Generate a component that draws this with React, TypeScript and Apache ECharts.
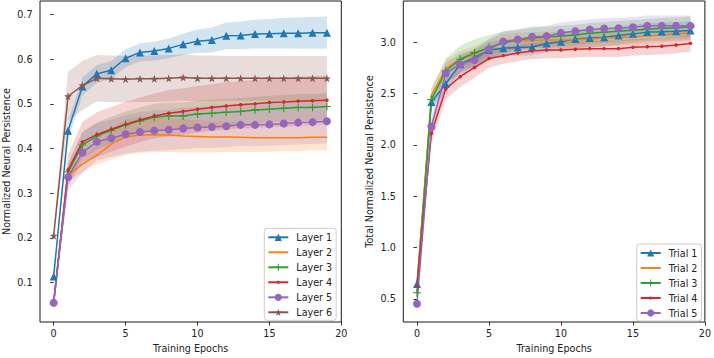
import React, { useEffect, useRef } from "react";
import * as echarts from "echarts";

const epochs = [0, 1, 2, 3, 4, 5, 6, 7, 8, 9, 10, 11, 12, 13, 14, 15, 16, 17, 18, 19];
const xTicks = [0, 5, 10, 15, 20];
const leftYTicks = [0.1, 0.2, 0.3, 0.4, 0.5, 0.6, 0.7];
const rightYTicks = [0.5, 1.0, 1.5, 2.0, 2.5, 3.0];

const layerNames = ["Layer 1", "Layer 2", "Layer 3", "Layer 4", "Layer 5", "Layer 6"];
const layer1 = [0.114, 0.44, 0.539, 0.567, 0.575, 0.602, 0.615, 0.618, 0.624, 0.633, 0.64, 0.643, 0.652, 0.653, 0.656, 0.657, 0.658, 0.658, 0.659, 0.659];
const layer2 = [0.058, 0.34, 0.365, 0.385, 0.41, 0.426, 0.43, 0.431, 0.43, 0.428, 0.427, 0.426, 0.426, 0.425, 0.424, 0.424, 0.424, 0.424, 0.425, 0.425];
const layer3 = [0.055, 0.348, 0.408, 0.428, 0.441, 0.453, 0.462, 0.47, 0.473, 0.473, 0.477, 0.479, 0.481, 0.483, 0.486, 0.488, 0.49, 0.492, 0.492, 0.494];
const layer4 = [0.055, 0.352, 0.415, 0.431, 0.443, 0.454, 0.464, 0.473, 0.479, 0.483, 0.488, 0.492, 0.495, 0.498, 0.5, 0.503, 0.504, 0.506, 0.507, 0.508];
const layer5 = [0.055, 0.336, 0.391, 0.415, 0.423, 0.432, 0.437, 0.44, 0.442, 0.445, 0.447, 0.448, 0.45, 0.453, 0.453, 0.454, 0.456, 0.458, 0.459, 0.461];
const layer6 = [0.205, 0.517, 0.541, 0.557, 0.556, 0.555, 0.556, 0.556, 0.557, 0.559, 0.557, 0.557, 0.557, 0.557, 0.557, 0.557, 0.557, 0.557, 0.557, 0.557];

const layer1Std = [0.008, 0.02, 0.02, 0.02, 0.02, 0.02, 0.02, 0.021, 0.022, 0.024, 0.026, 0.028, 0.03, 0.031, 0.032, 0.033, 0.034, 0.035, 0.036, 0.036];
const layer2Std = [0.005, 0.015, 0.018, 0.02, 0.035, 0.04, 0.04, 0.039, 0.038, 0.037, 0.036, 0.035, 0.034, 0.033, 0.032, 0.031, 0.03, 0.03, 0.029, 0.029];
const layer3Std = [0.005, 0.02, 0.03, 0.03, 0.03, 0.03, 0.03, 0.03, 0.03, 0.03, 0.03, 0.03, 0.03, 0.03, 0.03, 0.03, 0.03, 0.03, 0.03, 0.03];
const layer4Std = [0.01, 0.035, 0.045, 0.05, 0.05, 0.05, 0.05, 0.05, 0.052, 0.052, 0.052, 0.052, 0.053, 0.053, 0.054, 0.054, 0.055, 0.055, 0.055, 0.055];
const layer5Std = [0.005, 0.03, 0.045, 0.042, 0.042, 0.043, 0.044, 0.045, 0.045, 0.046, 0.046, 0.047, 0.047, 0.047, 0.048, 0.048, 0.048, 0.049, 0.049, 0.049];
const layer6Std = [0.01, 0.055, 0.055, 0.052, 0.052, 0.052, 0.052, 0.052, 0.052, 0.052, 0.051, 0.051, 0.05, 0.05, 0.05, 0.05, 0.05, 0.05, 0.05, 0.05];

const trialNames = ["Trial 1", "Trial 2", "Trial 3", "Trial 4", "Trial 5"];
const trial1 = [0.645, 2.416, 2.593, 2.785, 2.85, 2.923, 2.94, 2.948, 2.952, 2.987, 3.003, 3.03, 3.04, 3.048, 3.065, 3.08, 3.097, 3.1, 3.106, 3.113];
const trial2 = [0.62, 2.48, 2.743, 2.833, 2.88, 2.946, 3.0, 3.01, 3.015, 3.02, 3.02, 3.025, 3.03, 3.04, 3.045, 3.05, 3.06, 3.07, 3.08, 3.09];
const trial3 = [0.56, 2.44, 2.72, 2.833, 2.897, 2.946, 2.994, 3.02, 3.04, 3.05, 3.06, 3.07, 3.085, 3.095, 3.105, 3.115, 3.125, 3.135, 3.14, 3.15];
const trial4 = [0.625, 2.11, 2.544, 2.663, 2.753, 2.84, 2.868, 2.893, 2.913, 2.923, 2.923, 2.93, 2.936, 2.936, 2.936, 2.949, 2.955, 2.96, 2.971, 2.987];
const trial5 = [0.452, 2.178, 2.697, 2.785, 2.825, 2.93, 3.005, 3.026, 3.052, 3.058, 3.09, 3.106, 3.122, 3.132, 3.135, 3.145, 3.158, 3.158, 3.158, 3.158];

const trial1Std = [0.03, 0.06, 0.08, 0.08, 0.08, 0.08, 0.08, 0.08, 0.08, 0.085, 0.085, 0.09, 0.09, 0.09, 0.09, 0.09, 0.09, 0.09, 0.09, 0.09];
const trial2Std = [0.03, 0.08, 0.08, 0.08, 0.08, 0.08, 0.08, 0.08, 0.08, 0.08, 0.08, 0.08, 0.08, 0.08, 0.08, 0.08, 0.08, 0.08, 0.08, 0.08];
const trial3Std = [0.03, 0.1, 0.12, 0.13, 0.13, 0.12, 0.11, 0.1, 0.1, 0.1, 0.1, 0.1, 0.1, 0.1, 0.1, 0.1, 0.1, 0.1, 0.1, 0.1];
const trial4Std = [0.03, 0.1, 0.1, 0.1, 0.1, 0.09, 0.08, 0.08, 0.08, 0.08, 0.08, 0.08, 0.08, 0.08, 0.08, 0.08, 0.08, 0.08, 0.08, 0.08];
const trial5Std = [0.03, 0.1, 0.1, 0.1, 0.1, 0.1, 0.1, 0.1, 0.1, 0.1, 0.1, 0.1, 0.1, 0.1, 0.1, 0.1, 0.1, 0.1, 0.1, 0.1];

const colors = ["#1f77b4", "#ff7f0e", "#2ca02c", "#d62728", "#9467bd", "#8c564b"];
const bandFills = [
  "rgba(31,119,180,0.2)",
  "rgba(255,127,14,0.2)",
  "rgba(44,160,44,0.2)",
  "rgba(214,39,40,0.2)",
  "rgba(148,103,189,0.2)",
  "rgba(140,86,75,0.2)",
];

// symbol paths: the invisible M..Z corners fix the bounding box so small markers stay small
const PLUS = "path://M0.43,0H0.57V0.43H1V0.57H0.57V1H0.43V0.57H0V0.43H0.43Z";
const STAR = "path://M0,-1L0.2245,-0.309L0.951,-0.309L0.363,0.118L0.588,0.809L0,0.382L-0.588,0.809L-0.363,0.118L-0.951,-0.309L-0.2245,-0.309Z";
const POINT = "path://M0,0ZM1,1ZM0.42,0.3H0.58L0.7,0.42V0.58L0.58,0.7H0.42L0.3,0.58V0.42Z";
const PIXEL = "path://M0,0ZM1,1ZM0.44,0.44H0.56V0.56H0.44Z";

const layerSymbols: [string, number][] = [
  ["triangle", 8],
  [PIXEL, 8],
  [PLUS, 8],
  [POINT, 8.5],
  ["circle", 8],
  [STAR, 8],
];
const trialSymbols: [string, number][] = [
  ["triangle", 8],
  [PIXEL, 8],
  [PLUS, 8],
  [POINT, 8.5],
  ["circle", 8],
];

const FONT = "DejaVu Sans";
const TEXT = "#222";

function pair(xs: number[], ys: number[]) {
  return xs.map((x, i) => [x, ys[i]]);
}

function bandSeries(idx: number, mean: number[], std: number[], fill: string) {
  return {
    type: "custom",
    xAxisIndex: idx,
    yAxisIndex: idx,
    data: [[0, mean[0]]],
    silent: true,
    clip: true,
    z: 1,
    renderItem: (_params: any, api: any) => {
      const upper = epochs.map((x, i) => api.coord([x, mean[i] + std[i]]));
      const lower = epochs.map((x, i) => api.coord([x, mean[i] - std[i]])).reverse();
      return {
        type: "polygon",
        shape: { points: upper.concat(lower) },
        style: { fill, stroke: "none" },
      };
    },
  };
}

function lineSeries(idx: number, name: string, mean: number[], color: string, sym: [string, number]) {
  return {
    type: "line",
    name,
    xAxisIndex: idx,
    yAxisIndex: idx,
    data: pair(epochs, mean),
    color,
    symbol: sym[0],
    symbolSize: sym[1],
    showAllSymbol: true,
    lineStyle: { width: 1.5, color },
    itemStyle: { color, borderWidth: 0 },
    z: 3,
  };
}

function xAxis(idx: number) {
  return {
    type: "value",
    gridIndex: idx,
    min: -0.95,
    max: 20,
    name: "Training Epochs",
    nameLocation: "middle",
    nameGap: 21,
    nameTextStyle: { fontFamily: FONT, fontSize: 9.6, color: TEXT },
    axisLine: { show: false },
    axisTick: { show: true, length: 3.5, customValues: xTicks, lineStyle: { color: "#000", width: 0.8 } },
    axisLabel: {
      customValues: xTicks,
      margin: 6,
      fontFamily: FONT,
      fontSize: 9.6,
      color: TEXT,
      formatter: (v: number) => String(v),
    },
    splitLine: { show: false },
  };
}

function yAxis(idx: number, min: number, max: number, ticks: number[], name: string) {
  return {
    type: "value",
    gridIndex: idx,
    min,
    max,
    name,
    nameLocation: "middle",
    nameGap: 29,
    nameTextStyle: { fontFamily: FONT, fontSize: 9.6, color: TEXT },
    axisLine: { show: false },
    axisTick: { show: true, length: 3.5, customValues: ticks, lineStyle: { color: "#000", width: 0.8 } },
    axisLabel: {
      customValues: ticks,
      margin: 7.5,
      fontFamily: FONT,
      fontSize: 9.6,
      color: TEXT,
      formatter: (v: number) => v.toFixed(1),
    },
    splitLine: { show: false },
  };
}

function legend(left: number, top: number, names: string[]) {
  return {
    left,
    top,
    orient: "vertical",
    data: names,
    itemWidth: 20,
    itemHeight: 9,
    itemGap: 3,
    padding: [3, 4, 2, 3],
    backgroundColor: "rgba(255,255,255,0.8)",
    borderColor: "#cccccc",
    borderWidth: 1,
    borderRadius: 3,
    textStyle: { fontFamily: FONT, fontSize: 9.6, color: TEXT, lineHeight: 12, padding: [0, 0, 0, 3] },
  };
}

export default function App() {
  const ref = useRef<HTMLDivElement>(null);
  useEffect(() => {
    if (!ref.current) return;
    const chart = echarts.init(ref.current, undefined, { renderer: "svg" });
    const layers = [layer1, layer2, layer3, layer4, layer5, layer6];
    const layerStds = [layer1Std, layer2Std, layer3Std, layer4Std, layer5Std, layer6Std];
    const trials = [trial1, trial2, trial3, trial4, trial5];
    const trialStds = [trial1Std, trial2Std, trial3Std, trial4Std, trial5Std];
    const series: any[] = [];
    layers.forEach((m, i) => series.push(bandSeries(0, m, layerStds[i], bandFills[i])));
    trials.forEach((m, i) => series.push(bandSeries(1, m, trialStds[i], bandFills[i])));
    layers.forEach((m, i) => series.push(lineSeries(0, layerNames[i], m, colors[i], layerSymbols[i])));
    trials.forEach((m, i) => series.push(lineSeries(1, trialNames[i], m, colors[i], trialSymbols[i])));

    chart.setOption({
      animation: false,
      backgroundColor: "#ffffff",
      grid: [
        { left: 38.3, top: 1, width: 303, height: 324.7, show: true, borderColor: "#1a1a1a", borderWidth: 1, backgroundColor: "transparent" },
        { left: 403.3, top: 1, width: 303, height: 324.7, show: true, borderColor: "#1a1a1a", borderWidth: 1, backgroundColor: "transparent" },
      ],
      xAxis: [xAxis(0), xAxis(1)],
      yAxis: [
        yAxis(0, 0.012, 0.73, leftYTicks, "Normalized Neural Persistence"),
        yAxis(1, 0.275, 3.4, rightYTicks, "Total Normalized Neural Persistence"),
      ],
      legend: [legend(264.3, 228.3, layerNames), legend(636.7, 244, trialNames)],
      series,
    });
    return () => chart.dispose();
  }, []);
  return <div ref={ref} style={{ position: "fixed", left: 0, top: 0, width: 714, height: 358 }} />;
}
